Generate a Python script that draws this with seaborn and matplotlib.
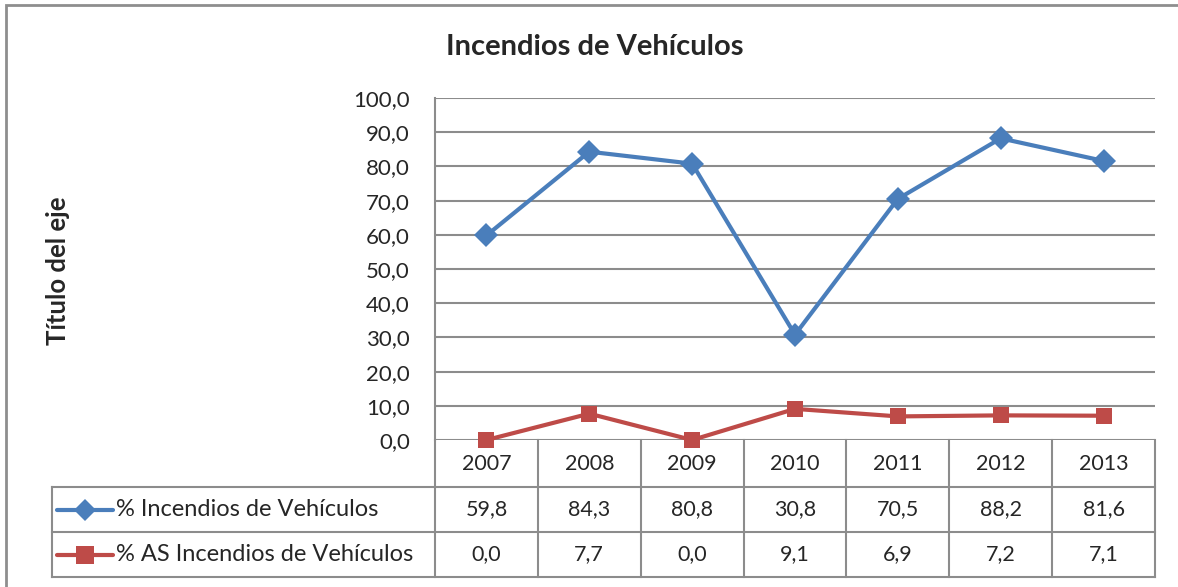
import matplotlib
matplotlib.use("Agg")
import matplotlib.pyplot as plt
import matplotlib.transforms as mtransforms
from matplotlib.patches import Rectangle
import seaborn as sns
import pandas as pd

# Datos del gráfico
years = ["2007", "2008", "2009", "2010", "2011", "2012", "2013"]
serie_incendios = [59.8, 84.3, 80.8, 30.8, 70.5, 88.2, 81.6]
serie_as = [0.0, 7.7, 0.0, 9.1, 6.9, 7.2, 7.1]
nombre_incendios = "% Incendios de Vehículos"
nombre_as = "% AS Incendios de Vehículos"
yticks = [0, 10, 20, 30, 40, 50, 60, 70, 80, 90, 100]

azul = "#4A7EBB"
rojo = "#BE4B48"
gris = "#8C8C8C"

df = pd.DataFrame({
    "pos": list(range(len(years))) * 2,
    "valor": serie_incendios + serie_as,
    "serie": [nombre_incendios] * len(years) + [nombre_as] * len(years),
})

sns.set_theme(style="white")
plt.rcParams["font.family"] = ["Lato", "DejaVu Sans"]

fig = plt.figure(figsize=(11.78, 5.87), dpi=100)
ax = fig.add_axes([435 / 1178, 1 - 440 / 587, 720 / 1178, 342 / 587])

sns.lineplot(data=df, x="pos", y="valor", hue="serie", style="serie",
             palette={nombre_incendios: azul, nombre_as: rojo},
             markers={nombre_incendios: "D", nombre_as: "s"}, dashes=False,
             markersize=12, linewidth=3, markeredgewidth=0, legend=False,
             ax=ax, clip_on=False, zorder=5)

ax.set_xlim(-0.5, len(years) - 0.5)
ax.set_ylim(0, 100)
ax.set_yticks(yticks)
ax.set_yticklabels([f"{v:.1f}".replace(".", ",") for v in yticks], fontsize=16)
ax.set_xticks([])
ax.set_xlabel("")
ax.set_ylabel("Título del eje", fontsize=18.5, fontweight="bold", labelpad=0)
ax.yaxis.set_label_coords((70 - 435) / 720, 0.495)
ax.tick_params(axis="y", length=0, pad=18)
ax.grid(axis="y", color=gris, linewidth=1.5)
for s in ["top", "right", "bottom"]:
    ax.spines[s].set_visible(False)
ax.spines["left"].set_color(gris)
ax.spines["left"].set_linewidth(1.5)

fig.text(0.505, 1 - 47 / 587, "Incendios de Vehículos", ha="center", va="center",
         fontsize=21, fontweight="bold")

# Tabla de datos debajo del eje
row_y = [0, -47 / 342, -92 / 342, -137 / 342]
left = (52 - 435) / 720
blend = mtransforms.blended_transform_factory(ax.transData, ax.transAxes)
lk = dict(color=gris, linewidth=1.5, clip_on=False, solid_capstyle="projecting")

for yy in row_y[1:]:
    ax.plot([left, 1], [yy, yy], transform=ax.transAxes, **lk)
ax.plot([left, left], [row_y[1], row_y[3]], transform=ax.transAxes, **lk)
ax.plot([0, 0], [row_y[0], row_y[3]], transform=ax.transAxes, **lk)
for i in range(len(years)):
    ax.plot([i + 0.5, i + 0.5], [row_y[0], row_y[3]], transform=blend, **lk)

filas = [years,
         [f"{v:.1f}".replace(".", ",") for v in serie_incendios],
         [f"{v:.1f}".replace(".", ",") for v in serie_as]]
for r, fila in enumerate(filas):
    yc = (row_y[r] + row_y[r + 1]) / 2
    for i, t in enumerate(fila):
        ax.text(i, yc, t, transform=blend, ha="center", va="center", fontsize=15.5)

# Claves de leyenda en la tabla
for r, (nombre, color, mk) in enumerate([(nombre_incendios, azul, "D"), (nombre_as, rojo, "s")], start=1):
    yc = (row_y[r] + row_y[r + 1]) / 2
    ax.plot([(57 - 435) / 720, (113 - 435) / 720], [yc, yc], color=color, linewidth=3,
            transform=ax.transAxes, clip_on=False)
    ax.plot([(85 - 435) / 720], [yc], marker=mk, color=color, markersize=13 if mk == "s" else 11,
            markeredgewidth=0, transform=ax.transAxes, clip_on=False)
    ax.text((116 - 435) / 720, yc, nombre, transform=ax.transAxes, ha="left", va="center", fontsize=17)

# Marco del gráfico
fig.patches.append(Rectangle((6 / 1178, -0.1), 1.2, 1 - 5 / 587 + 0.1, transform=fig.transFigure,
                             fill=False, edgecolor="#8E8E8E", linewidth=2))

fig.savefig("out.png", dpi=100)
